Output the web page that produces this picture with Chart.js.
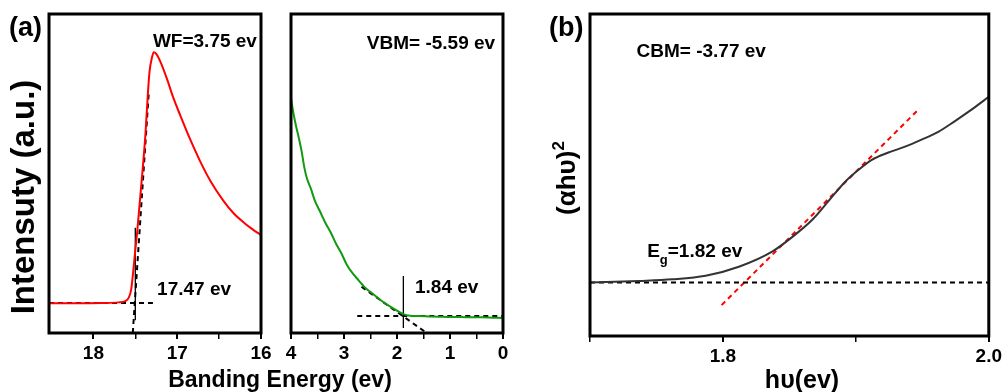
<!DOCTYPE html>
<html>
<head>
<meta charset="utf-8">
<script src="https://cdn.jsdelivr.net/npm/chart.js@4.4.1/dist/chart.umd.min.js"></script>
<style>
body{margin:0;background:#fff;width:1005px;height:392px;position:relative;overflow:hidden;font-family:Arial,"Liberation Sans",sans-serif}
canvas{position:absolute;left:0;top:0}
.t{position:absolute;white-space:nowrap;font-weight:bold;color:#000;line-height:1}
</style>
</head>
<body>
<canvas id="wf" width="1005" height="392"></canvas>
<canvas id="vb" width="1005" height="392"></canvas>
<canvas id="eg" width="1005" height="392"></canvas>

<div class="t" style="left:9px;top:14px;font-size:27px">(a)</div>
<div class="t" style="left:549px;top:14px;font-size:27px">(b)</div>
<div class="t" style="left:22px;top:197px;font-size:33px;transform:translate(-50%,-50%) rotate(-90deg)">Intensuty (a.u.)</div>
<div class="t" style="left:280px;top:379px;font-size:23px;transform:translate(-50%,-50%)">Banding Energy (ev)</div>
<div class="t" style="left:802px;top:379px;font-size:25px;transform:translate(-50%,-50%)">h&#965;(ev)</div>
<div class="t" style="left:564px;top:178px;font-size:26px;transform:translate(-50%,-50%) rotate(-90deg)">(&#945;h&#965;)<sup style="font-size:17px;vertical-align:11px">2</sup></div>

<script>
/* ---------- DATA: (a) secondary electron cutoff ---------- */
const wfE = [18.53,18.2,17.9,17.7,17.62,17.58,17.55,17.53,17.5,17.48,17.44,17.41,17.38,17.35,17.33,17.3,17.28,17.25,17.2,17.12,17.05,16.96,16.85,16.72,16.6,16.45,16.33,16.2,16.1,16.0];
const wfI = [9.3,9.3,9.4,9.6,10.0,11.0,13.5,18,26,31,43,52,62,75,82,86.5,88,87.5,85,79.5,74,68,61,53.5,47.5,41.5,37.6,34.5,32.5,30.7];
const wfBaseE = [18.53,17.29], wfBaseI = [9.4,9.4];
const wfFitE = [17.53,17.34], wfFitI = [0,75];
const wfMarkE = [17.5,17.5], wfMarkI = [33,4];

/* ---------- DATA: (a) valence band edge ---------- */
const vbE = [4.0,3.95,3.9,3.85,3.8,3.75,3.7,3.62,3.55,3.45,3.35,3.25,3.15,3.05,2.95,2.85,2.75,2.6,2.45,2.3,2.15,2.0,1.88,1.75,1.6,1.4,1.2,1.0,0.8,0.6,0.4,0.2,0.0];
const vbI = [73.5,68.5,64.5,61,57,52,48.5,45,41.5,38,34.5,31.5,28,25,21.5,19,17,14.2,12.2,10.2,8.5,7.0,5.9,5.4,5.3,5.2,5.1,5.0,5.0,4.9,4.9,4.8,4.7];
const vbBaseE = [2.75,0], vbBaseI = [5.3,5.3];
const vbFitE = [2.67,1.44], vbFitI = [14.5,0];
const vbMarkE = [1.88,1.88], vbMarkI = [17.9,1.6];

/* ---------- DATA: (b) Tauc plot ---------- */
const hv = [1.7,1.737,1.762,1.787,1.812,1.837,1.852,1.867,1.88,1.892,1.902,1.912,1.924,1.937,1.949,1.962,1.974,1.987,2.0];
const tauc = [16.6,17.1,17.6,18.7,21.5,26.2,30.7,36.0,42.2,47.9,51.6,54.7,56.9,58.8,60.9,63.4,66.6,70.3,74.3];
const egBaseX = [1.7,2.0], egBaseY = [16.6,16.6];
const egFitX = [1.799,1.948], egFitY = [9.6,70.7];

/* ---------- HELPERS ---------- */
const pts = (xs, ys) => xs.map((x, i) => ({x: x, y: ys[i]}));
const curve = (xs, ys, col) => ({data: pts(xs, ys), borderColor: col, borderWidth: 2, pointRadius: 0, cubicInterpolationMode: 'monotone'});
const dash = (xs, ys, col) => ({data: pts(xs, ys), borderColor: col, borderWidth: 2, borderDash: [5,4], pointRadius: 0});
const solid = (xs, ys) => ({data: pts(xs, ys), borderColor: '#000', borderWidth: 1.3, pointRadius: 0});
const NOTE = 'bold 19px Arial, "Liberation Sans"';

// frame + in-plot notes
const framePlugin = {
 id: 'frame',
 afterDatasetsDraw(chart, args, opts){
  const c = chart.ctx, a = chart.chartArea, xs = chart.scales.x, ys = chart.scales.y;
  c.save();
  c.strokeStyle = '#000'; c.lineWidth = 3;
  c.strokeRect(a.left, a.top, a.right - a.left, a.bottom - a.top);
  c.fillStyle = '#000'; c.textBaseline = 'middle'; c.textAlign = 'left';
  (opts.notes || []).forEach(n => {
   let px = xs.getPixelForValue(n.x), py = ys.getPixelForValue(n.y);
   c.font = NOTE;
   if(n.sub){
    c.fillText(n.text, px, py);
    px += c.measureText(n.text).width;
    c.font = 'bold 13px Arial, "Liberation Sans"';
    c.fillText(n.sub, px, py + 8);
    px += c.measureText(n.sub).width;
    c.font = NOTE;
    c.fillText(n.rest, px, py);
   } else c.fillText(n.text, px, py);
  });
  c.restore();
 }
};

function makeChart(id, box, datasets, xopt, notes){
 new Chart(document.getElementById(id), {
  type: 'line',
  data: {datasets: datasets},
  plugins: [framePlugin],
  options: {
   responsive: false, animation: false, parsing: false,
   layout: {padding: {left: box[0], right: 1005 - box[1], top: box[2], bottom: 0}},
   plugins: {legend: {display: false}, tooltip: {enabled: false}, frame: {notes: notes}},
   scales: {
    x: {
     type: 'linear', min: xopt.min, max: xopt.max, reverse: xopt.reverse,
     afterFit: s => { s.height = 392 - box[3]; },
     border: {display: false},
     grid: {drawOnChartArea: false, drawTicks: true, tickLength: 6, color: '#000',
      lineWidth: c => xopt.major(c.tick.value) ? 2 : (xopt.minor(c.tick.value) ? 1.5 : 0)},
     ticks: {color: '#000', padding: 3, maxRotation: 0, autoSkip: false, stepSize: xopt.step,
      font: {family: 'Arial, "Liberation Sans"', size: 19, weight: 'bold'},
      callback: v => xopt.major(v) ? xopt.fmt(v) : ''}
    },
    y: {type: 'linear', display: false, min: 0, max: 100}
   }
  }
 });
}

const onStep = (v, s) => Math.abs(v / s - Math.round(v / s)) < 1e-6;

makeChart('wf', [49, 261, 14, 333], [
 curve(wfE, wfI, '#ff0000'),
 dash(wfBaseE, wfBaseI, '#000'),
 dash(wfFitE, wfFitI, '#000'),
 solid(wfMarkE, wfMarkI)
], {min: 16, max: 18.53, reverse: true, step: 0.5,
 major: v => onStep(v, 1), minor: v => onStep(v, 0.5), fmt: v => String(Math.round(v))},
 [{x: 17.29, y: 91.2, text: 'WF=3.75 ev'}, {x: 17.24, y: 13.5, text: '17.47 ev'}]);

makeChart('vb', [291, 503, 14, 333], [
 curve(vbE, vbI, '#119911'),
 dash(vbBaseE, vbBaseI, '#000'),
 dash(vbFitE, vbFitI, '#000'),
 solid(vbMarkE, vbMarkI)
], {min: 0, max: 4, reverse: true, step: 0.5,
 major: v => onStep(v, 1), minor: v => onStep(v, 0.5), fmt: v => String(Math.round(v))},
 [{x: 2.57, y: 90.6, text: 'VBM= -5.59 ev'}, {x: 1.66, y: 14.1, text: '1.84 ev'}]);

makeChart('eg', [590, 991, 14, 336], [
 curve(hv, tauc, '#333333'),
 dash(egBaseX, egBaseY, '#000'),
 dash(egFitX, egFitY, '#ff0000')
], {min: 1.7, max: 2.0, reverse: false, step: 0.1,
 major: v => onStep(v, 0.2), minor: v => onStep(v, 0.1), fmt: v => v.toFixed(1)},
 [{x: 1.735, y: 88.2, text: 'CBM= -3.77 ev'}, {x: 1.743, y: 26.1, text: 'E', sub: 'g', rest: '=1.82 ev'}]);
</script>
</body>
</html>
